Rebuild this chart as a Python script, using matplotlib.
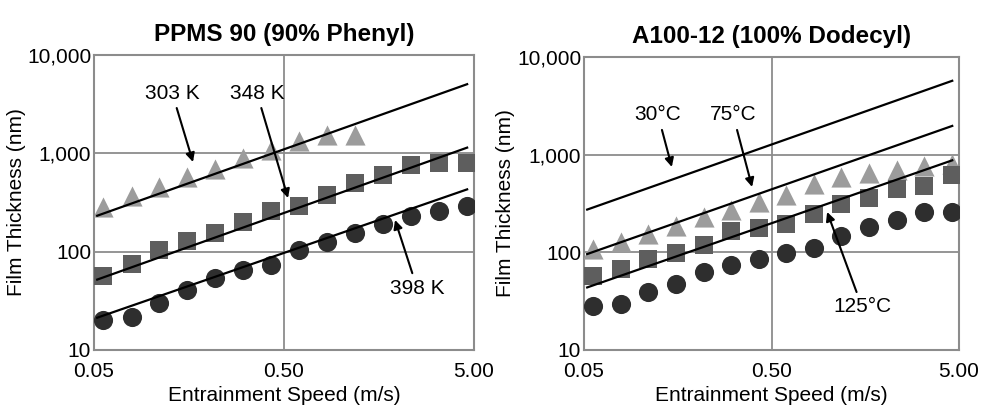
import matplotlib
matplotlib.use('Agg')
import matplotlib.pyplot as plt
from matplotlib.ticker import FixedLocator, FuncFormatter, NullLocator

plt.rcParams['font.family'] = ['Liberation Sans', 'DejaVu Sans']

# entrainment speeds (m/s), same for both fluids
speed = [0.056, 0.079, 0.110, 0.155, 0.217, 0.305, 0.428, 0.600,
         0.842, 1.18, 1.66, 2.33, 3.26, 4.58]

# PPMS 90 measured film thickness (nm)
ppms_303 = [285, 366, 454, 575, 701, 889, 1080, 1340, 1520, 1520]
ppms_348 = [56, 75, 103, 128, 156, 201, 261, 294, 378, 501, 608, 759, 789, 800]
ppms_398 = [20, 21.7, 29.7, 40.8, 53.8, 65.5, 73.8, 105, 126, 156, 190, 232, 261, 294]

# A100-12 measured film thickness (nm)
a100_30 = [108, 127, 154, 184, 229, 272, 327, 382, 504, 589, 648, 701, 759, 796]
a100_75 = [57.6, 67.5, 85.5, 97.8, 120, 164, 178, 196, 244, 314, 362, 447, 473, 614]
a100_125 = [28.3, 29.5, 38.8, 47.3, 62.4, 74.7, 85.5, 97.8, 111, 148, 181, 215, 258, 258]

# predicted film thickness lines (start, end)
line_x = [0.052, 4.6]
ppms_lines = [[232, 5050], [52, 1143], [21.3, 430]]
a100_lines = [[274, 5710], [96, 1970], [43.7, 875]]

ppms_labels = ['303 K', '348 K', '398 K']
a100_labels = ['30°C', '75°C', '125°C']

fig = plt.figure(figsize=(9.81, 4.09), dpi=100)

grey = '#8c8c8c'
colors = ['#9c9c9c', '#5e5e5e', '#2e2e2e']
markers = ['^', 's', 'o']
msize = [210, 170, 190]
fs = 15


def style_axes(ax, title, ylab_x):
	ax.set_xscale('log')
	ax.set_yscale('log')
	ax.set_xlim(0.05, 5.0)
	ax.set_ylim(10, 10000)
	ax.xaxis.set_major_locator(FixedLocator([0.05, 0.5, 5.0]))
	ax.xaxis.set_minor_locator(NullLocator())
	ax.yaxis.set_major_locator(FixedLocator([10, 100, 1000, 10000]))
	ax.yaxis.set_minor_locator(NullLocator())
	ax.xaxis.set_major_formatter(FuncFormatter(lambda v, p: '%.2f' % v))
	ax.yaxis.set_major_formatter(FuncFormatter(lambda v, p: '{:,.0f}'.format(v)))
	ax.tick_params(length=0, labelsize=fs)
	ax.tick_params(axis='x', pad=9)
	ax.tick_params(axis='y', pad=2)
	ax.grid(True, color=grey, lw=1.3)
	for s in ax.spines.values():
		s.set_color(grey)
		s.set_linewidth(1.5)
	ax.set_xlabel('Entrainment Speed (m/s)', fontsize=fs, labelpad=3)
	ax.set_ylabel('Film Thickness (nm)', fontsize=fs)
	ax.yaxis.set_label_coords(ylab_x, 0.5)
	ax.set_title(title, fontsize=17.5, fontweight='bold', pad=10)


def draw(ax, series, lines, labels, text_pos, head_pos):
	for i in range(3):
		ys = series[i]
		ax.scatter(speed[:len(ys)], ys, marker=markers[i], s=msize[i],
				   color=colors[i], zorder=3, linewidths=0)
	for ln in lines:
		ax.plot(line_x, ln, color='black', lw=1.6, zorder=4)
	for i in range(3):
		ax.annotate(labels[i], xy=head_pos[i], xytext=text_pos[i],
					ha='center', va='center', fontsize=fs, zorder=5,
					arrowprops=dict(arrowstyle='-|>', color='black', lw=1.5,
									mutation_scale=13, shrinkA=2, shrinkB=0))


ax1 = fig.add_axes([0.0958, 0.1443, 0.3874, 0.7212])
style_axes(ax1, 'PPMS 90 (90% Phenyl)', -0.178)
draw(ax1, [ppms_303, ppms_348, ppms_398], ppms_lines, ppms_labels,
	 [(0.129, 4100), (0.36, 4100), (2.51, 42.6)],
	 [(0.166, 816), (0.525, 351), (1.92, 210)])

ax2 = fig.add_axes([0.5953, 0.1443, 0.3823, 0.7163])
style_axes(ax2, 'A100-12 (100% Dodecyl)', -0.184)
draw(ax2, [a100_30, a100_75, a100_125], a100_lines, a100_labels,
	 [(0.124, 2550), (0.312, 2550), (1.52, 27.6)],
	 [(0.147, 748), (0.394, 467), (0.99, 259)])

fig.savefig('out.png', dpi=100, facecolor='white')
